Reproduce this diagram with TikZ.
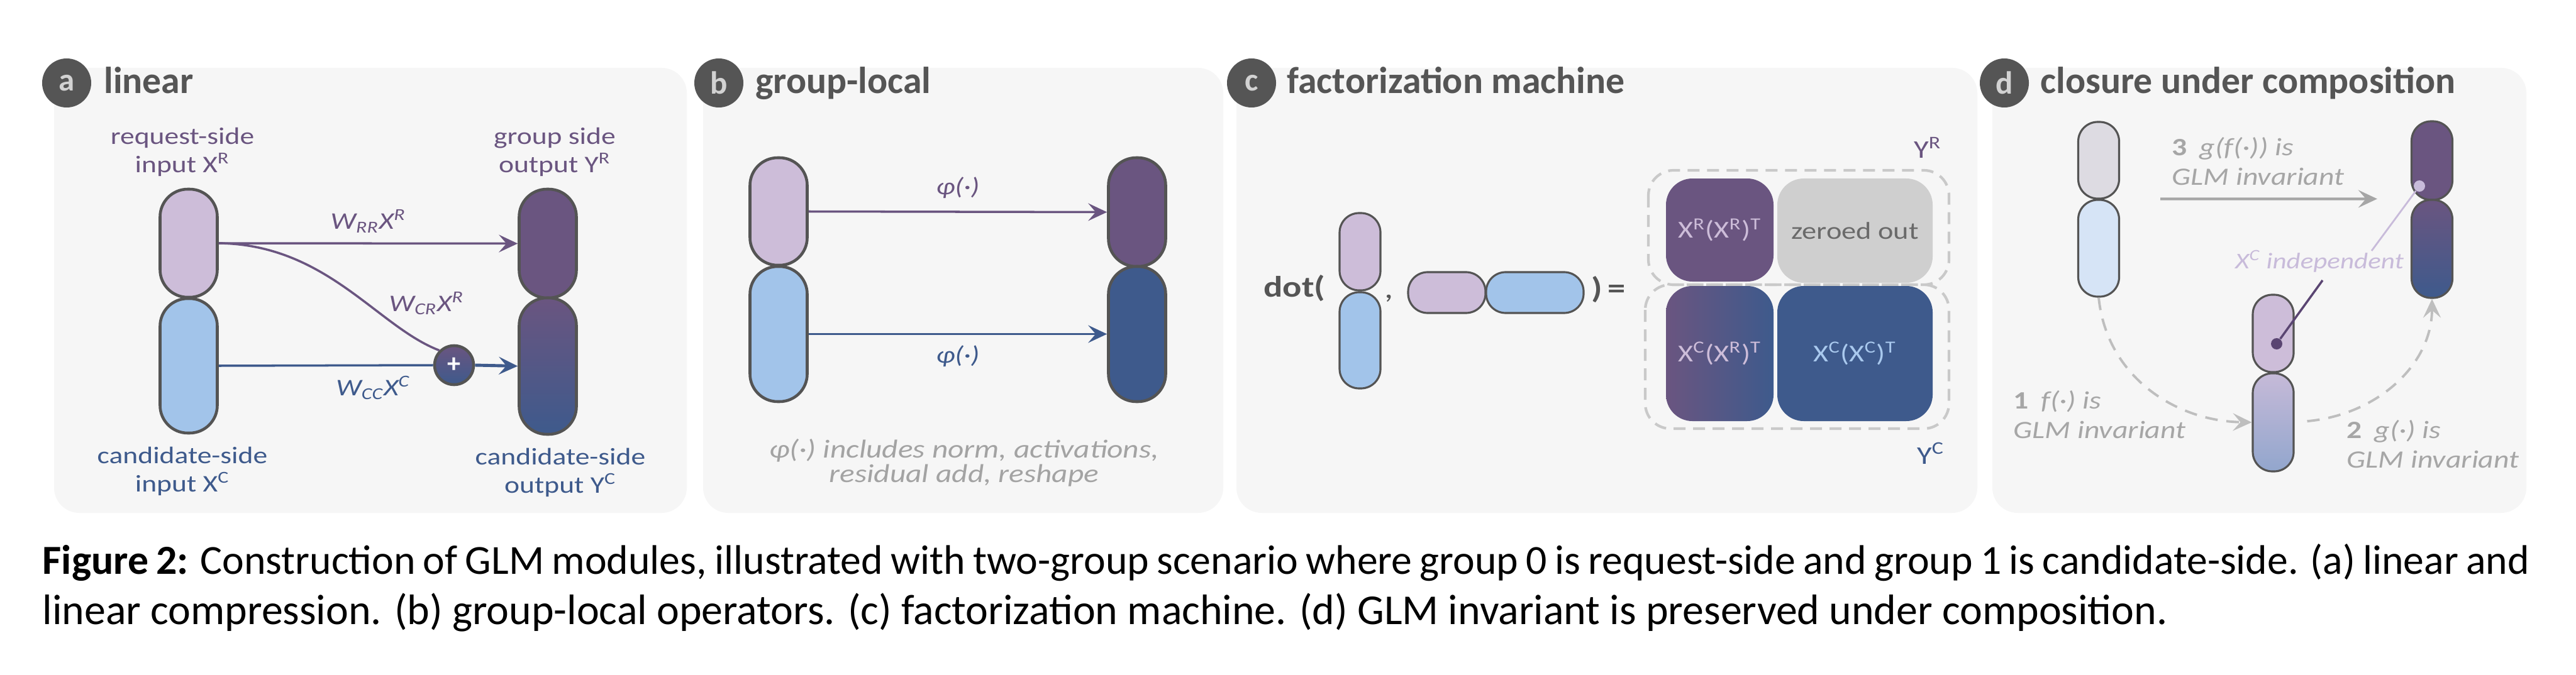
\documentclass[tikz,border=0pt]{standalone}
\usepackage{fontspec}
\setmainfont{Carlito}
\newfontfamily\lblfont[FakeStretch=1.2]{Carlito}
\usepackage{tikz}
\usetikzlibrary{positioning,arrows.meta}

\definecolor{panelbg}{HTML}{F6F6F6}
\definecolor{tagbg}{HTML}{555555}
\definecolor{taglt}{HTML}{D2D2D2}
\definecolor{headc}{HTML}{555555}
\definecolor{edgec}{HTML}{545454}
\definecolor{reqlt}{HTML}{CDBDD9}
\definecolor{candlt}{HTML}{A2C4EA}
\definecolor{reqdk}{HTML}{6A5580}
\definecolor{canddk}{HTML}{3E5A8C}
\definecolor{notec}{HTML}{A3A3A3}
\definecolor{zerobg}{HTML}{CFCFCF}
\definecolor{zerotx}{HTML}{6A6A6A}
\definecolor{dashc}{HTML}{C9C9C9}
\definecolor{stepc}{HTML}{A6A6A6}
\definecolor{arcc}{HTML}{BEBEBE}
\definecolor{indc}{HTML}{C8BBDA}
\definecolor{dotdk}{HTML}{5A4572}
\definecolor{dgraylt}{HTML}{DDDBE2}
\definecolor{dblult}{HTML}{D6E4F6}
\definecolor{dmidtop}{HTML}{C6BAD8}
\definecolor{dmidbot}{HTML}{92A6CD}
\definecolor{candlbl}{HTML}{A9C9EE}

\begin{document}
\begin{tikzpicture}[
   tag/.style={circle, fill=tagbg, text=taglt, minimum size=0.78cm, inner sep=0pt,
               font=\bfseries\fontsize{14.5}{14.5}\selectfont},
   heading/.style={anchor=base west, inner sep=0pt, text=headc,
               font=\bfseries\fontsize{17}{20}\selectfont},
   panel/.style={fill=panelbg, rounded corners=0.4cm},
   pill/.style={draw=edgec, line width=1.3pt, rounded corners=0.44cm,
               minimum width=0.91cm, inner sep=0pt},
   slim/.style={draw=edgec, line width=0.9pt, rounded corners=0.31cm,
               minimum width=0.65cm, inner sep=0pt},
   sidelbl/.style={align=center, inner sep=0pt, font=\lblfont\fontsize{10.8}{12.8}\selectfont},
   wlbl/.style={inner sep=0pt, font=\lblfont\itshape\fontsize{10.8}{12.8}\selectfont},
   wire/.style={line width=1pt},
   flow/.style={line width=1pt, -{Stealth[length=0.3cm, width=0.28cm, inset=0.12cm]}},
   sumnode/.style={circle, draw=edgec, line width=1.3pt, top color=reqdk, bottom color=canddk,
               text=white, minimum size=0.62cm, inner sep=0pt, font=\bfseries\fontsize{12}{12}\selectfont},
   mbox/.style={rounded corners=0.42cm, inner sep=0pt, font=\lblfont\fontsize{11}{13}\selectfont},
   dashbox/.style={draw=dashc, line width=1.2pt, dash pattern=on 0.19cm off 0.12cm, rounded corners=0.4cm},
   cbold/.style={inner sep=0pt, text=headc, font=\lblfont\bfseries\fontsize{13.4}{16}\selectfont},
   steplbl/.style={align=left, inner sep=0pt, text=stepc, font=\lblfont\itshape\fontsize{11.3}{13.2}\selectfont},
   arcflow/.style={draw=arcc, line width=1.1pt, dash pattern=on 0.2cm off 0.14cm,
               -{Stealth[length=0.3cm, width=0.28cm, inset=0.12cm]}},
   dotmark/.style={circle, inner sep=0pt, minimum size=0.18cm},
   caption/.style={anchor=base west, inner sep=0pt, font=\fontsize{19.3}{22}\selectfont}
]
   \fill[white] (0,0) rectangle (40.96,-10.74);
   \useasboundingbox (0,0) rectangle (40.96,-10.74);

   % panel backgrounds
   \fill[panel] (0.86,-1.08) rectangle (10.92,-8.16);
   \fill[panel] (11.18,-1.08) rectangle (19.45,-8.16);
   \fill[panel] (19.66,-1.08) rectangle (31.44,-8.16);
   \fill[panel] (31.68,-1.08) rectangle (40.17,-8.16);

   \node[tag] (tagA) at (1.06,-1.32) {a};
   \node[tag] (tagB) at (11.43,-1.32) {b};
   \node[tag] (tagC) at (19.90,-1.32) {c};
   \node[tag] (tagD) at (31.87,-1.32) {d};
   \node[heading] (headA) at ([xshift=0.19cm, yshift=-0.16cm]tagA.east) {linear};
   \node[heading] (headB) at ([xshift=0.18cm, yshift=-0.16cm]tagB.east) {group-local};
   \node[heading] (headC) at ([xshift=0.16cm, yshift=-0.16cm]tagC.east) {factorization machine};
   \node[heading] (headD) at ([xshift=0.17cm, yshift=-0.16cm]tagD.east) {closure under composition};

   % (a) linear
   \node[pill, fill=reqlt, minimum height=1.72cm] (reqin) at (3.00,-3.87) {};
   \node[pill, fill=candlt, minimum height=2.14cm] (candin) at (3.00,-5.82) {};
   \node[pill, fill=reqdk, minimum height=1.73cm] (reqout) at (8.71,-3.875) {};
   \node[pill, top color=reqdk, bottom color=canddk, minimum height=2.17cm] (candout) at (8.71,-5.825) {};
   \node[sumnode] (sum) at (7.22,-5.81) {+};

   \node[sidelbl, reqdk, above=0.17cm of reqin, xshift=-0.1cm] (reqinlbl) {request-side\\input X\textsuperscript{R}};
   \node[sidelbl, reqdk, above=0.17cm of reqout, xshift=0.11cm] (reqoutlbl) {group side\\output Y\textsuperscript{R}};
   \node[sidelbl, canddk, below=0.19cm of candin, xshift=-0.1cm] (candinlbl) {candidate-side\\input X\textsuperscript{C}};
   \node[sidelbl, canddk, below=0.19cm of candout, xshift=0.2cm] (candoutlbl) {candidate-side\\output Y\textsuperscript{C}};

   \draw[flow, reqdk] (reqin.east) -- node[wlbl, above=0.15cm] {W\textsubscript{RR}X\textsuperscript{R}} (reqout.west);
   \draw[wire, reqdk] (reqin.east) .. controls (5.2,-3.89) and (6.0,-5.2) .. (sum.north west);
   \node[wlbl, reqdk, anchor=base west] (wcr) at (6.18,-4.95) {W\textsubscript{CR}X\textsuperscript{R}};
   \draw[wire, canddk] (candin.east) -- node[wlbl, pos=0.72, below=0.15cm] {W\textsubscript{CC}X\textsuperscript{C}} (sum.west);
   \draw[flow, canddk, line width=1.4pt] (sum.east) -- (candout.west);

   % (b) group-local
   \node[pill, fill=reqlt, minimum height=1.71cm] (breq) at (12.38,-3.365) {};
   \node[pill, fill=candlt, minimum height=2.15cm] (bcand) at (12.38,-5.315) {};
   \node[pill, fill=reqdk, minimum height=1.73cm] (breqout) at (18.08,-3.375) {};
   \node[pill, fill=canddk, minimum height=2.15cm] (bcandout) at (18.08,-5.315) {};
   \draw[flow, reqdk] (breq.east) -- node[wlbl, above=0.2cm] {φ(·)} (breqout.west);
   \draw[flow, canddk] (bcand.east) -- node[wlbl, below=0.17cm] {φ(·)} (bcandout.west);
   \node[align=center, inner sep=0pt, text=notec, anchor=north, font=\lblfont\itshape\fontsize{11.7}{10.9}\selectfont]
      (bnote) at (15.33,-6.98) {φ(·) includes norm, activations,\\residual add, reshape};

   % (c) factorization machine
   \node[cbold, anchor=base east] (dotl) at (21.08,-4.72) {dot(};
   \node[slim, fill=reqlt, minimum height=1.23cm] (cvq) at (21.625,-4.005) {};
   \node[slim, fill=candlt, minimum height=1.53cm] (cvc) at (21.625,-5.415) {};
   \node[cbold, anchor=base, font=\lblfont\fontsize{13.4}{16}\selectfont] (comma) at (22.09,-4.74) {,};
   \node[slim, fill=reqlt, minimum width=1.23cm, minimum height=0.65cm] (chq) at (23.005,-4.655) {};
   \node[slim, fill=candlt, minimum width=1.55cm, minimum height=0.65cm] (chc) at (24.405,-4.655) {};
   \node[cbold, anchor=base west] (ceq) at (25.30,-4.74) {)\,=};

   \draw[dashbox] (26.21,-2.71) rectangle (30.99,-4.53);
   \draw[dashbox] (26.16,-4.53) rectangle (30.99,-6.82);
   \node[mbox, fill=reqdk, text=reqlt, minimum width=1.71cm, minimum height=1.64cm] (mrr) at (27.345,-3.66)
      {X\textsuperscript{R}(X\textsuperscript{R})\textsuperscript{T}};
   \node[mbox, fill=zerobg, text=zerotx, minimum width=2.47cm, minimum height=1.66cm] (mzero) at (29.495,-3.67)
      {zeroed out};
   \node[mbox, left color=reqdk, right color=canddk, text=reqlt, minimum width=1.71cm, minimum height=2.15cm] (mcr) at (27.345,-5.625)
      {X\textsuperscript{C}(X\textsuperscript{R})\textsuperscript{T}};
   \node[mbox, fill=canddk, text=candlbl, minimum width=2.47cm, minimum height=2.15cm] (mcc) at (29.495,-5.625)
      {X\textsuperscript{C}(X\textsuperscript{C})\textsuperscript{T}};
   \node[sidelbl, reqdk, anchor=base, font=\lblfont\fontsize{11.5}{13}\selectfont] (cyr) at (30.65,-2.52) {Y\textsuperscript{R}};
   \node[sidelbl, canddk, anchor=base, font=\lblfont\fontsize{11.5}{13}\selectfont] (cyc) at (30.70,-7.38) {Y\textsuperscript{C}};

   % (d) closure under composition
   \node[slim, fill=dgraylt, minimum height=1.22cm] (dlq) at (33.37,-2.55) {};
   \node[slim, fill=dblult, minimum height=1.54cm] (dlc) at (33.37,-3.95) {};
   \node[slim, fill=reqlt, minimum height=1.23cm] (dmq) at (36.145,-5.305) {};
   \node[slim, top color=dmidtop, bottom color=dmidbot, minimum height=1.56cm] (dmc) at (36.145,-6.72) {};
   \node[slim, fill=reqdk, minimum height=1.25cm] (drq) at (38.67,-2.555) {};
   \node[slim, top color=reqdk, bottom color=canddk, minimum height=1.56cm] (drc) at (38.67,-3.96) {};

   \draw[flow, stepc, line width=1.2pt, shorten <=0.64cm, shorten >=0.53cm] (dlc.north east) -- (drc.north west);
   \draw[arcflow] (dlc.south) .. controls (33.50,-6.00) and (34.60,-6.70) .. (dmc.west);
   \draw[arcflow, shorten <=0.2cm] (dmc.east) .. controls (37.80,-6.60) and (38.67,-5.80) .. (drc.south);

   \node[steplbl, anchor=south west] (step3) at (34.53,-2.95) {{\upshape\bfseries 3}\enspace g(f(·)) is\\GLM invariant};
   \node[steplbl, anchor=south west] (step1) at (32.01,-6.98) {{\upshape\bfseries 1}\enspace f(·) is\\GLM invariant};
   \node[steplbl, anchor=south west] (step2) at (37.31,-7.45) {{\upshape\bfseries 2}\enspace g(·) is\\GLM invariant};

   \node[dotmark, fill=indc] (dotR) at (38.47,-2.96) {};
   \node[dotmark, fill=dotdk] (dotM) at (36.20,-5.47) {};
   \node[inner sep=0pt, anchor=base, text=indc, font=\lblfont\itshape\fontsize{10.2}{12}\selectfont]
      (indep) at (36.88,-4.27) {X\textsuperscript{C} independent};
   \coordinate (indtop) at (37.71,-3.99);
   \coordinate (indbot) at (36.93,-4.46);
   \draw[indc, line width=0.8pt] (indtop) -- (dotR);
   \draw[dotdk, line width=1pt] (indbot) -- (dotM);

   % caption
   \node[caption, font=\fontsize{18.7}{22}\selectfont] (capA) at (0.67,-9.13) {\makebox[39.55cm][s]{\textbf{Figure 2:} Construction of GLM modules, illustrated with two-group scenario where group 0 is request-side and group 1 is candidate-side. (a) linear and}};
   \node[caption] (capB) at (0.67,-9.93) {linear compression. (b) group-local operators. (c) factorization machine. (d) GLM invariant is preserved under composition.};
\end{tikzpicture}
\end{document}
